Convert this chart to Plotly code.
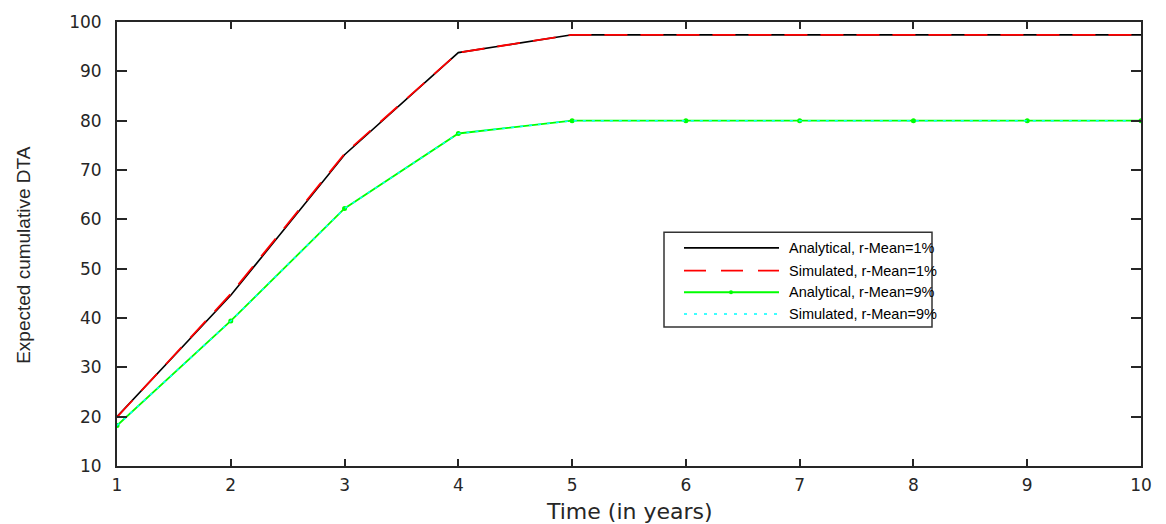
import plotly.graph_objects as go

years = [1, 2, 3, 4, 5, 6, 7, 8, 9, 10]
analytical_1 = [20.0, 44.6, 73.1, 93.8, 97.4, 97.4, 97.4, 97.4, 97.4, 97.4]
simulated_1 = [19.9, 44.9, 73.3, 93.8, 97.4, 97.4, 97.4, 97.4, 97.4, 97.4]
analytical_9 = [18.2, 39.4, 62.2, 77.4, 80.0, 80.0, 80.0, 80.0, 80.0, 80.0]
simulated_9 = [18.2, 39.4, 62.2, 77.4, 80.0, 80.0, 80.0, 80.0, 80.0, 80.0]
legend_labels = ["Analytical, r-Mean=1%", "Simulated, r-Mean=1%",
                 "Analytical, r-Mean=9%", "Simulated, r-Mean=9%"]
x_ticks = [1, 2, 3, 4, 5, 6, 7, 8, 9, 10]
y_ticks = [10, 20, 30, 40, 50, 60, 70, 80, 90, 100]

AX = "#262626"
TICKFONT = dict(family="DejaVu Sans, Liberation Sans, Arial", size=17, color=AX)

fig = go.Figure()
fig.add_trace(go.Scatter(x=years, y=analytical_1, mode="lines",
                         line=dict(color="#000000", width=1.6), showlegend=False))
fig.add_trace(go.Scatter(x=years, y=simulated_1, mode="lines",
                         line=dict(color="#ff0000", width=1.8, dash="23px,13px"),
                         showlegend=False))
fig.add_trace(go.Scatter(x=years, y=analytical_9, mode="lines+markers",
                         line=dict(color="#00ff00", width=1.8),
                         marker=dict(color="#00ff00", size=5),
                         showlegend=False))
fig.add_trace(go.Scatter(x=years, y=simulated_9, mode="lines",
                         line=dict(color="#00ffff", width=1.5, dash="3px,6px"),
                         showlegend=False))

# manual legend (MATLAB-style)
L, R, B, T = 117, 1141, 466, 16
W, H = R - L, B - T
def px(x):
    return (x - L) / W
def py(y):
    return (B - y) / H

shapes = [dict(type="rect", xref="paper", yref="paper",
               x0=px(664), x1=px(932), y0=py(325), y1=py(229),
               line=dict(color="#333333", width=1.5), fillcolor="white", layer="above")]
rows = [245, 268, 290, 312]
styles = [dict(color="#000000", width=1.8),
          dict(color="#ff0000", width=1.8, dash="22px,15px"),
          dict(color="#00ff00", width=2),
          dict(color="#00ffff", width=1.6, dash="3px,7px")]
annotations = []
for r, st, lab in zip(rows, styles, legend_labels):
    shapes.append(dict(type="line", xref="paper", yref="paper",
                       x0=px(684), x1=px(779), y0=py(r), y1=py(r),
                       line=st, layer="above"))
    annotations.append(dict(xref="paper", yref="paper", x=px(787), y=py(r),
                            text=lab, showarrow=False, xanchor="left", yanchor="middle",
                            font=dict(family="Liberation Sans, Arial", size=14.5, color="#000000")))
shapes.append(dict(type="circle", xref="paper", yref="paper",
                   x0=px(729), x1=px(733), y0=py(292), y1=py(288),
                   fillcolor="#00ff00", line=dict(color="#00ff00", width=0), layer="above"))

annotations.append(dict(xref="paper", yref="paper", x=0.5, y=py(512),
                        text="Time (in years)", showarrow=False,
                        xanchor="center", yanchor="middle",
                        font=dict(family="DejaVu Sans, Liberation Sans, Arial", size=22, color=AX)))
annotations.append(dict(xref="paper", yref="paper", x=px(24), y=py(252),
                        text="Expected cumulative DTA", showarrow=False, textangle=-90,
                        xanchor="center", yanchor="middle",
                        font=dict(family="Liberation Sans, Arial", size=19, color=AX)))

fig.update_layout(
    width=1166, height=524,
    margin=dict(l=L, r=1166 - R, t=T, b=524 - B),
    paper_bgcolor="white", plot_bgcolor="white",
    shapes=shapes, annotations=annotations,
    xaxis=dict(range=[1, 10], tickvals=x_ticks, ticktext=[str(v) for v in x_ticks],
               showgrid=False, zeroline=False, showline=True, linecolor=AX, linewidth=2,
               mirror="ticks", ticks="inside", ticklen=7, tickwidth=2, tickcolor=AX,
               tickfont=TICKFONT, ticklabelstandoff=3),
    yaxis=dict(range=[10, 100], tickvals=y_ticks, ticktext=[str(v) for v in y_ticks],
               showgrid=False, zeroline=False, showline=True, linecolor=AX, linewidth=2,
               mirror="ticks", ticks="inside", ticklen=10, tickwidth=2, tickcolor=AX,
               tickfont=TICKFONT, ticklabelstandoff=10),
)

fig.write_html("out.html", config={"displayModeBar": False},
               post_script="document.body.style.margin='0';document.body.style.padding='0';"
                           "document.documentElement.style.overflow='hidden';")
